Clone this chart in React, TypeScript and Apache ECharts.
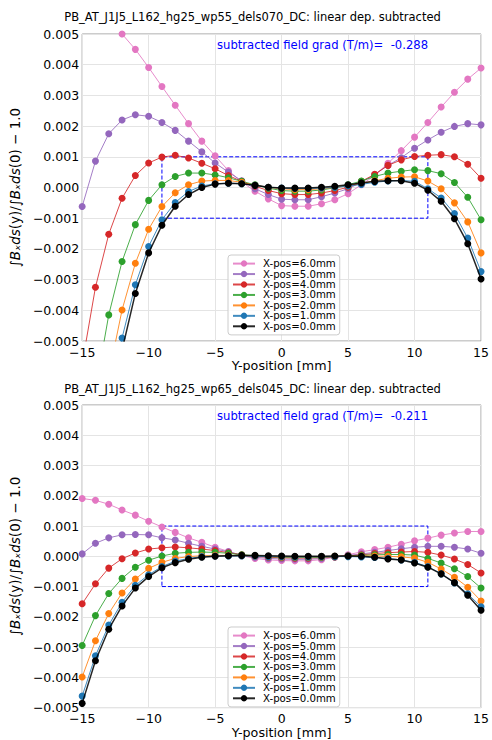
import React, { useEffect, useRef } from "react";
import * as echarts from "echarts";

// Y-position [mm] sample points
const yPositions = [-15, -14, -13, -12, -11, -10, -9, -8, -7, -6, -5, -4, -3, -2, -1, 0, 1, 2, 3, 4, 5, 6, 7, 8, 9, 10, 11, 12, 13, 14, 15];

const seriesNames = ["X-pos=6.0mm", "X-pos=5.0mm", "X-pos=4.0mm", "X-pos=3.0mm", "X-pos=2.0mm", "X-pos=1.0mm", "X-pos=0.0mm"];
const seriesColors = ["#e377c2", "#9467bd", "#d62728", "#2ca02c", "#ff7f0e", "#1f77b4", "#000000"];

// values in units of 1e-3
const UNIT = 1e-3;

// Top chart: wp55_dels070
const topPink6 = [6.5, 6.05, 5.55, 5.0, 4.5, 3.91, 3.29, 2.68, 2.08, 1.51, 1.03, 0.55, 0.18, -0.12, -0.37, -0.59, -0.61, -0.61, -0.53, -0.4, -0.2, 0.09, 0.39, 0.79, 1.2, 1.64, 2.12, 2.62, 3.1, 3.53, 3.89];
const topPurple5 = [-0.62, 0.86, 1.75, 2.2, 2.37, 2.32, 2.12, 1.86, 1.51, 1.16, 0.8, 0.5, 0.22, -0.04, -0.23, -0.38, -0.4, -0.4, -0.3, -0.18, -0.04, 0.17, 0.42, 0.72, 0.97, 1.28, 1.55, 1.8, 1.99, 2.08, 2.04];
const topRed4 = [-5.75, -3.25, -1.52, -0.35, 0.39, 0.8, 0.99, 1.05, 0.96, 0.79, 0.61, 0.39, 0.2, 0.04, -0.1, -0.2, -0.23, -0.23, -0.18, -0.1, 0.01, 0.2, 0.43, 0.72, 0.9, 1.01, 1.05, 1.07, 1.0, 0.76, 0.3];
const topGreen3 = [-9.0, -6.6, -4.15, -2.41, -1.21, -0.42, 0.09, 0.36, 0.47, 0.47, 0.41, 0.32, 0.2, 0.09, -0.02, -0.1, -0.12, -0.12, -0.08, -0.01, 0.09, 0.21, 0.36, 0.47, 0.53, 0.58, 0.55, 0.45, 0.16, -0.32, -1.05];
const topOrange2 = [-11.0, -8.5, -6.1, -3.99, -2.47, -1.36, -0.62, -0.17, 0.09, 0.21, 0.23, 0.23, 0.17, 0.07, 0.01, -0.04, -0.07, -0.07, -0.04, 0.0, 0.05, 0.13, 0.22, 0.3, 0.34, 0.35, 0.21, -0.04, -0.5, -1.12, -2.13];
const topBlue1 = [-12.0, -9.5, -7.0, -4.9, -3.17, -1.92, -1.05, -0.49, -0.13, 0.05, 0.12, 0.14, 0.12, 0.07, 0.01, -0.02, -0.03, -0.03, -0.02, 0.0, 0.05, 0.1, 0.17, 0.21, 0.23, 0.2, -0.04, -0.34, -0.85, -1.65, -2.74];
const topBlack0 = [-12.5, -10.0, -7.3, -5.3, -3.45, -2.13, -1.23, -0.61, -0.23, 0.0, 0.11, 0.14, 0.12, 0.07, 0.01, -0.02, -0.02, -0.02, 0.01, 0.04, 0.09, 0.15, 0.2, 0.22, 0.22, 0.14, -0.09, -0.45, -1.02, -1.83, -2.98];

// Bottom chart: wp65_dels045
const botPink6 = [1.91, 1.85, 1.72, 1.53, 1.36, 1.16, 0.97, 0.79, 0.61, 0.46, 0.3, 0.16, 0.02, -0.07, -0.12, -0.14, -0.15, -0.15, -0.11, -0.03, 0.05, 0.15, 0.22, 0.3, 0.4, 0.51, 0.6, 0.7, 0.77, 0.82, 0.82];
const botPurple5 = [0.08, 0.43, 0.61, 0.71, 0.72, 0.71, 0.61, 0.54, 0.43, 0.33, 0.24, 0.15, 0.04, -0.03, -0.07, -0.09, -0.1, -0.1, -0.07, -0.02, 0.03, 0.08, 0.13, 0.19, 0.25, 0.3, 0.33, 0.33, 0.3, 0.24, 0.1];
const botRed4 = [-1.57, -0.91, -0.39, -0.08, 0.11, 0.24, 0.28, 0.31, 0.28, 0.24, 0.19, 0.12, 0.05, 0.0, -0.03, -0.05, -0.06, -0.06, -0.04, -0.02, 0.01, 0.05, 0.09, 0.12, 0.14, 0.16, 0.13, 0.04, -0.09, -0.27, -0.55];
const botGreen3 = [-2.95, -1.96, -1.23, -0.73, -0.36, -0.13, 0.01, 0.1, 0.13, 0.14, 0.13, 0.1, 0.05, 0.02, -0.01, -0.03, -0.04, -0.04, -0.03, -0.01, 0.01, 0.03, 0.05, 0.06, 0.06, 0.04, -0.07, -0.22, -0.41, -0.67, -1.05];
const botOrange2 = [-3.99, -2.79, -1.89, -1.21, -0.75, -0.4, -0.2, -0.07, -0.01, 0.02, 0.03, 0.03, 0.02, 0.0, -0.01, -0.02, -0.02, -0.02, -0.01, 0.0, 0.0, 0.01, 0.01, 0.0, -0.02, -0.06, -0.2, -0.42, -0.69, -1.02, -1.48];
const botBlue1 = [-4.62, -3.29, -2.27, -1.52, -0.96, -0.61, -0.34, -0.16, -0.07, -0.01, 0.01, 0.01, 0.01, 0.0, -0.01, -0.01, -0.02, -0.02, -0.01, -0.01, -0.01, -0.02, -0.04, -0.07, -0.12, -0.2, -0.34, -0.58, -0.88, -1.24, -1.67];
const botBlack0 = [-4.86, -3.45, -2.41, -1.64, -1.05, -0.67, -0.38, -0.21, -0.1, -0.03, 0.0, 0.02, 0.03, 0.03, 0.02, 0.01, 0.0, 0.0, 0.0, 0.01, 0.01, 0.0, -0.03, -0.09, -0.12, -0.22, -0.36, -0.58, -0.87, -1.29, -1.78];

const topSeries = [topPink6, topPurple5, topRed4, topGreen3, topOrange2, topBlue1, topBlack0];
const botSeries = [botPink6, botPurple5, botRed4, botGreen3, botOrange2, botBlue1, botBlack0];

const topTitle = "PB_AT_J1J5_L162_hg25_wp55_dels070_DC: linear dep. subtracted";
const botTitle = "PB_AT_J1J5_L162_hg25_wp65_dels045_DC: linear dep. subtracted";
const topGrad = "-0.288";
const botGrad = "-0.211";

// tolerance box
const boxX = [-9, 11];
const boxY = [-0.001, 0.001];

const yTicks = { min: -0.005, max: 0.005, interval: 0.001 };
const xTicks = { min: -15, max: 15, interval: 5 };

const FONT = "DejaVu Sans";

function fmtY(v: number) {
  const s = Math.abs(v).toFixed(3);
  return v < -1e-12 ? "\u2212" + s : s;
}
function fmtX(v: number) {
  return v < 0 ? "\u2212" + Math.abs(v) : String(v);
}

export default function App() {
  const ref = useRef<HTMLDivElement>(null);
  useEffect(() => {
    if (!ref.current) return;
    const chart = echarts.init(ref.current, null, { renderer: "svg" });

    const grids = [
      { left: 81, top: 34, width: 405, height: 307 },
      { left: 81, top: 405, width: 405, height: 308 },
    ];

    const mkX = (gi: number) => ({
      type: "value",
      gridIndex: gi,
      min: xTicks.min,
      max: xTicks.max,
      interval: xTicks.interval,
      name: "Y-position [mm]",
      nameLocation: "middle",
      nameGap: 16,
      nameTextStyle: { fontFamily: FONT, fontSize: 12.7, color: "#000" },
      axisLine: { show: false },
      axisTick: { show: false },
      axisLabel: { formatter: fmtX, fontFamily: FONT, fontSize: 12.5, lineHeight: 11, color: "#000", margin: 5.5 },
      splitLine: { show: true, lineStyle: { color: "#e4e4e4", width: 1 } },
    });
    const yName = "\u222B{i|B\u2093ds}(y)/\u222B{i|B\u2093ds}(0) \u2212 1.0";
    const mkY = (gi: number) => ({
      type: "value",
      gridIndex: gi,
      min: yTicks.min,
      max: yTicks.max,
      interval: yTicks.interval,
      name: yName,
      nameLocation: "middle",
      nameGap: 52,
      nameRotate: 90,
      nameTextStyle: {
        fontFamily: FONT,
        fontSize: 13.5,
        color: "#000",
        rich: { i: { fontFamily: FONT, fontSize: 13.5, fontStyle: "italic", color: "#000" } },
      },
      axisLine: { show: false },
      axisTick: { show: false },
      axisLabel: { formatter: fmtY, fontFamily: FONT, fontSize: 12.5, lineHeight: 11, color: "#000", margin: 3 },
      splitLine: { show: true, lineStyle: { color: "#e4e4e4", width: 1 } },
    });

    const series: any[] = [];
    [topSeries, botSeries].forEach((set, gi) => {
      series.push({
        type: "line",
        name: "box" + gi,
        xAxisIndex: gi,
        yAxisIndex: gi,
        data: [
          [boxX[0], boxY[0]],
          [boxX[1], boxY[0]],
          [boxX[1], boxY[1]],
          [boxX[0], boxY[1]],
          [boxX[0], boxY[0]],
        ],
        symbol: "none",
        silent: true,
        lineStyle: { color: "#0000ff", width: 1, type: [4, 2] },
        z: 1,
      });
      set.forEach((vals, si) => {
        series.push({
          type: "line",
          name: seriesNames[si],
          xAxisIndex: gi,
          yAxisIndex: gi,
          data: yPositions.map((x, k) => [x, vals[k] * UNIT]),
          symbol: "circle",
          symbolSize: 7,
          clip: true,
          lineStyle: { color: seriesColors[si], width: si === 6 ? 1.5 : 1, opacity: 0.85 },
          itemStyle: { color: seriesColors[si] },
          z: 2 + si,
        });
      });
    });

    const mkLegend = (top: number) => ({
      orient: "vertical",
      left: 228,
      top,
      data: seriesNames,
      itemWidth: 22,
      itemHeight: 8,
      itemGap: 0.45,
      padding: [3.6, 4, 3.6, 4],
      backgroundColor: "rgba(255,255,255,0.8)",
      borderColor: "#cccccc",
      borderWidth: 1,
      borderRadius: 3,
      textStyle: { fontFamily: FONT, fontSize: 10.2, lineHeight: 10, color: "#000", padding: [0, 0, 0, 3] },
    });

    const textEl = (x: number, y: number, text: string, color: string, size: number, align: string) => ({
      type: "text",
      x,
      y,
      style: { text, fill: color, font: `${size}px "${FONT}"`, textAlign: align, textVerticalAlign: "middle" },
      z: 100,
    });

    chart.setOption({
      animation: false,
      backgroundColor: "#ffffff",
      grid: grids.map((g) => ({ ...g, show: true, borderColor: "#999999", borderWidth: 1, backgroundColor: "transparent" })),
      xAxis: [mkX(0), mkX(1)],
      yAxis: [mkY(0), mkY(1)],
      legend: [mkLegend(255), mkLegend(627)],
      series,
      graphic: [
        textEl(252.5, 17, topTitle, "#000", 11.5, "center"),
        textEl(252.5, 389, botTitle, "#000", 11.5, "center"),
        textEl(217, 45, "subtracted field grad (T/m)=  " + topGrad, "#0000ff", 11.6, "left"),
        textEl(217, 416, "subtracted field grad (T/m)=  " + botGrad, "#0000ff", 11.6, "left"),
      ],
    });
    return () => chart.dispose();
  }, []);
  return <div ref={ref} style={{ position: "absolute", left: 0, top: 0, width: 492, height: 740 }} />;
}
